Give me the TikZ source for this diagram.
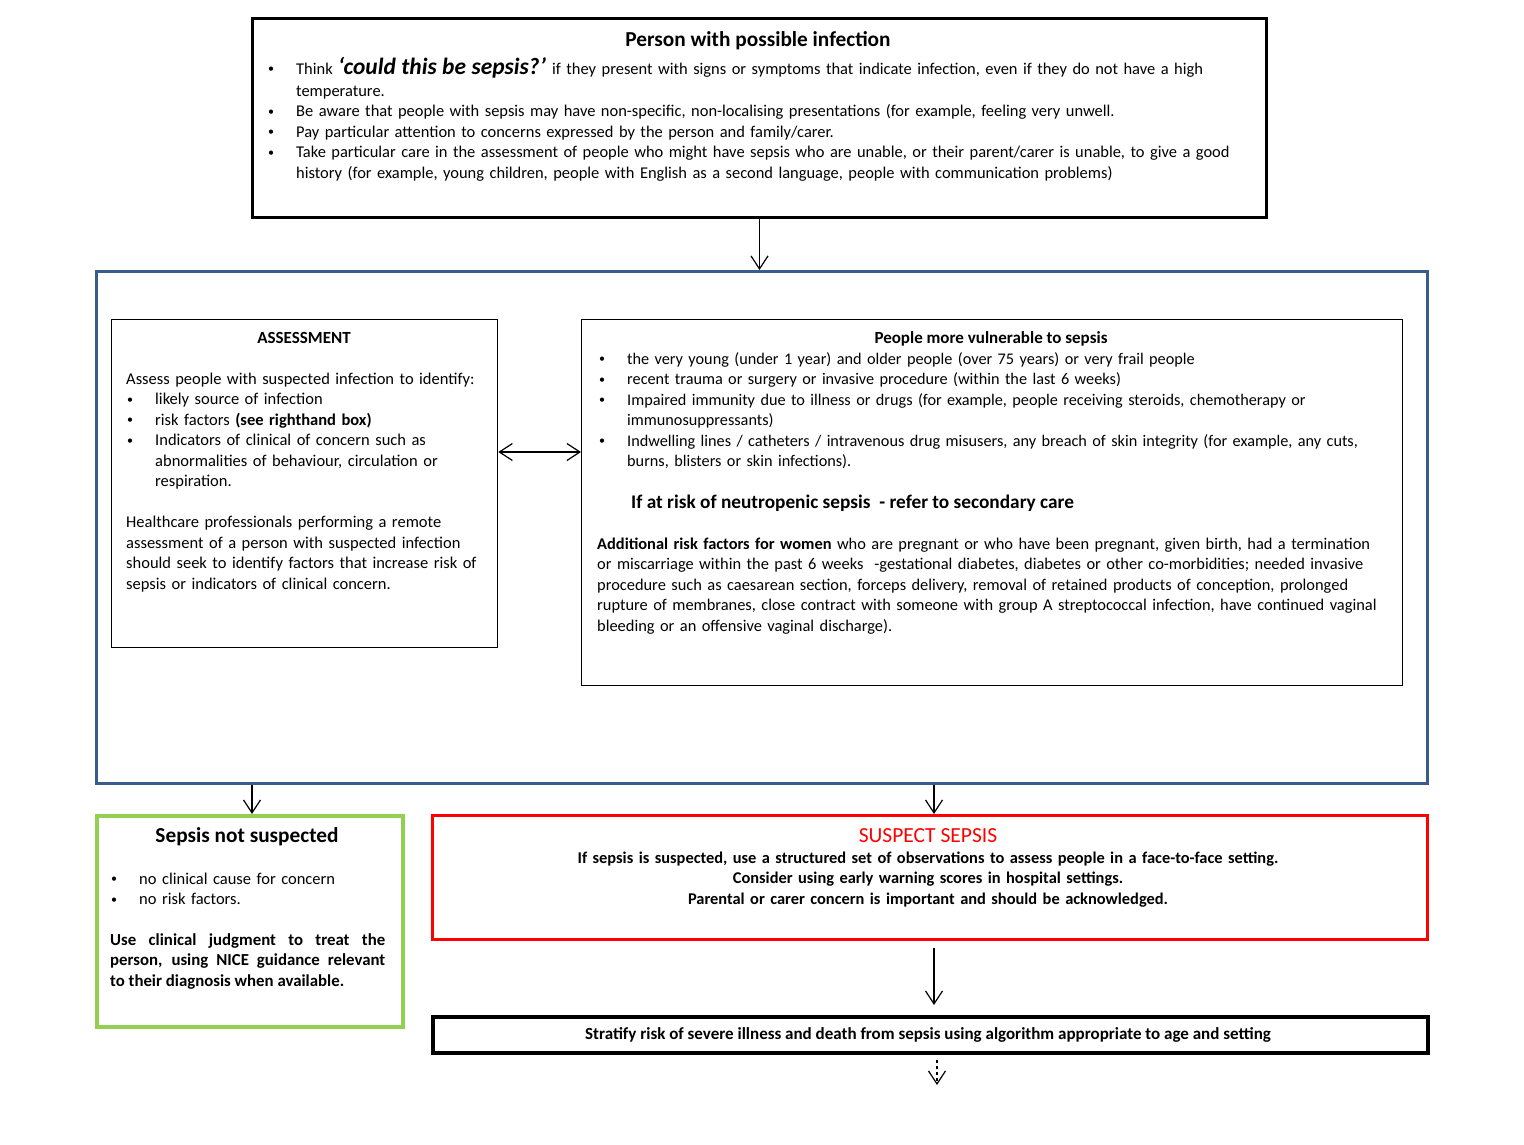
\documentclass[tikz,border=0pt]{standalone}
\usepackage{fontspec}
\setmainfont{Carlito}
\usetikzlibrary{arrows.meta,calc}
\definecolor{boxblue}{RGB}{56,93,138}
\definecolor{boxgreen}{RGB}{146,208,80}
\definecolor{boxred}{RGB}{255,0,0}
\newcommand{\mybul}{\makebox[29pt][l]{\hspace{0.8pt}\raisebox{1.3pt}{\fontsize{12}{12}\selectfont\textbullet}}}
\newcommand{\myind}{\hspace*{29pt}}
\begin{document}
\begin{tikzpicture}[x=1pt,y=-1pt,
  frame/.style={draw, inner sep=0pt, anchor=north west},
  txt/.style={inner sep=0pt, anchor=base west, text width=1150pt, align=left, font=\fontsize{16.5}{20.5}\selectfont},
  ctr/.style={inner sep=0pt, anchor=base, align=center, font=\fontsize{17}{20.5}\selectfont},
  bctr/.style={ctr, font=\fontsize{17}{20.5}\selectfont\bfseries},
  arr/.style={-{Straight Barb[length=13pt,width=17pt]}, line width=1.2pt},
  darr/.style={{Straight Barb[length=13pt,width=17pt]}-{Straight Barb[length=13pt,width=17pt]}, line width=1.2pt}]
\useasboundingbox[fill=white] (0,0) rectangle (1524,1144);

% boxes
\node[frame, line width=3pt, minimum width=1014pt, minimum height=199pt] (top) at (251,17) {};
\node[frame, line width=3pt, draw=boxblue, minimum width=1331pt, minimum height=512pt] (blue) at (95,270) {};
\node[frame, line width=1.3pt, minimum width=386pt, minimum height=328pt] (assess) at (111,319) {};
\node[frame, line width=1.3pt, minimum width=821pt, minimum height=366pt] (vuln) at (581,319) {};
\node[frame, line width=3.5pt, draw=boxgreen, minimum width=306pt, minimum height=211pt] (notsusp) at (95,814) {};
\node[frame, line width=3pt, draw=boxred, minimum width=995pt, minimum height=124pt] (suspect) at (431,814) {};
\node[frame, line width=4pt, minimum width=995pt, minimum height=36pt] (stratify) at (431,1015) {};

% top box text
\node[ctr, font=\fontsize{21.3}{24}\selectfont\bfseries] (toptitle) at (758,46) {Person with possible infection};
\node[txt, font=\fontsize{16.45}{20.5}\selectfont] (toptext) at (267,74) {\mybul Think {\fontsize{23.4}{20}\selectfont\bfseries\itshape ‘could this be sepsis?’}\hspace{-2pt} if they present with signs or symptoms that indicate infection, even if they do not have a high\\[1.5pt]
\myind temperature.\\
\mybul Be aware that people with sepsis may have non-specific, non-localising presentations (for example, feeling very unwell.\\
\mybul Pay particular attention to concerns expressed by the person and family/carer.\\
\mybul Take particular care in the assessment of people who might have sepsis who are unable, or their parent/carer is unable, to give a good\\
\myind history (for example, young children, people with English as a second language, people with communication problems)};

% assessment
\node[bctr] (asstitle) at (304,343) {ASSESSMENT};
\node[txt] (asstext) at (126,384) {Assess people with suspected infection to identify:\\
\mybul likely source of infection\\
\mybul risk factors \textbf{(see righthand box)}\\
\mybul Indicators of clinical of concern such as\\
\myind abnormalities of behaviour, circulation or\\
\myind respiration.\\[20.5pt]
Healthcare professionals performing a remote\\
assessment of a person with suspected infection\\
should seek to identify factors that increase risk of\\
sepsis or indicators of clinical concern.};

% vulnerable
\node[bctr] (vultitle) at (991,343) {People more vulnerable to sepsis};
\node[txt, font=\fontsize{16.25}{20.5}\selectfont] (vultext) at (598,364) {\mybul the very young (under 1 year) and older people (over 75 years) or very frail people\\
\mybul recent trauma or surgery or invasive procedure (within the last 6 weeks)\\
\mybul Impaired immunity due to illness or drugs (for example, people receiving steroids, chemotherapy or\\
\myind immunosuppressants)\\
\mybul Indwelling lines / catheters / intravenous drug misusers, any breach of skin integrity (for example, any cuts,\\
\myind burns, blisters or skin infections).};
\node[inner sep=0pt, anchor=base west, font=\fontsize{19.3}{22}\selectfont\bfseries] (neutro) at (631,508) {If at risk of neutropenic sepsis\ \ - refer to secondary care};
\node[txt, font=\fontsize{16.4}{20.5}\selectfont] (women) at (597,549) {\textbf{Additional risk factors for women} who are pregnant or who have been pregnant, given birth, had a termination\\
or miscarriage within the past 6 weeks\ \ -gestational diabetes, diabetes or other co-morbidities; needed invasive\\
procedure such as caesarean section, forceps delivery, removal of retained products of conception, prolonged\\
rupture of membranes, close contract with someone with group A streptococcal infection, have continued vaginal\\
bleeding or an offensive vaginal discharge).};

% sepsis not suspected
\node[ctr, font=\fontsize{21.3}{24}\selectfont\bfseries] (nstitle) at (247,842) {Sepsis not suspected};
\node[txt] (nsbul) at (110,884) {\mybul no clinical cause for concern\\
\mybul no risk factors.};
\node[inner sep=0pt, anchor=base west, text width=275pt, align=justify, font=\fontsize{16.8}{20.5}\selectfont\bfseries] (nsjud) at (110,945) {Use clinical judgment to treat the\linebreak person, using NICE guidance relevant\linebreak to their diagnosis when available.};

% suspect sepsis
\node[ctr, font=\fontsize{21.5}{24}\selectfont, text=boxred] (sstitle) at (928,842) {SUSPECT SEPSIS};
\node[bctr, text width=990pt, font=\fontsize{16.4}{20.5}\selectfont\bfseries] (sstext) at (928,863) {If sepsis is suspected, use a structured set of observations to assess people in a face-to-face setting.\\
Consider using early warning scores in hospital settings.\\
Parental or carer concern is important and should be acknowledged.};

% stratify
\node[bctr] (strtext) at (928,1039) {Stratify risk of severe illness and death from sepsis using algorithm appropriate to age and setting};

% connectors
\coordinate (ya) at (0,452);
\coordinate (c1) at (252,0);
\coordinate (c2) at (934,0);
\coordinate (c3) at (937,0);
\coordinate (endpt) at (937,1085);
\draw[arr] (top.south) -- (top.south |- blue.north);
\draw[darr] (assess.east |- ya) -- (vuln.west |- ya);
\draw[arr] (blue.south -| c1) -- (notsusp.north -| c1);
\draw[arr] (blue.south -| c2) -- (suspect.north -| c2);
\draw[arr] ([yshift=-7pt]suspect.south -| c2) -- ([yshift=10pt]stratify.north -| c2);
\draw[arr, dashed, dash pattern=on 3pt off 3pt] ([yshift=-5pt]stratify.south -| c3) -- (endpt);
\end{tikzpicture}
\end{document}
